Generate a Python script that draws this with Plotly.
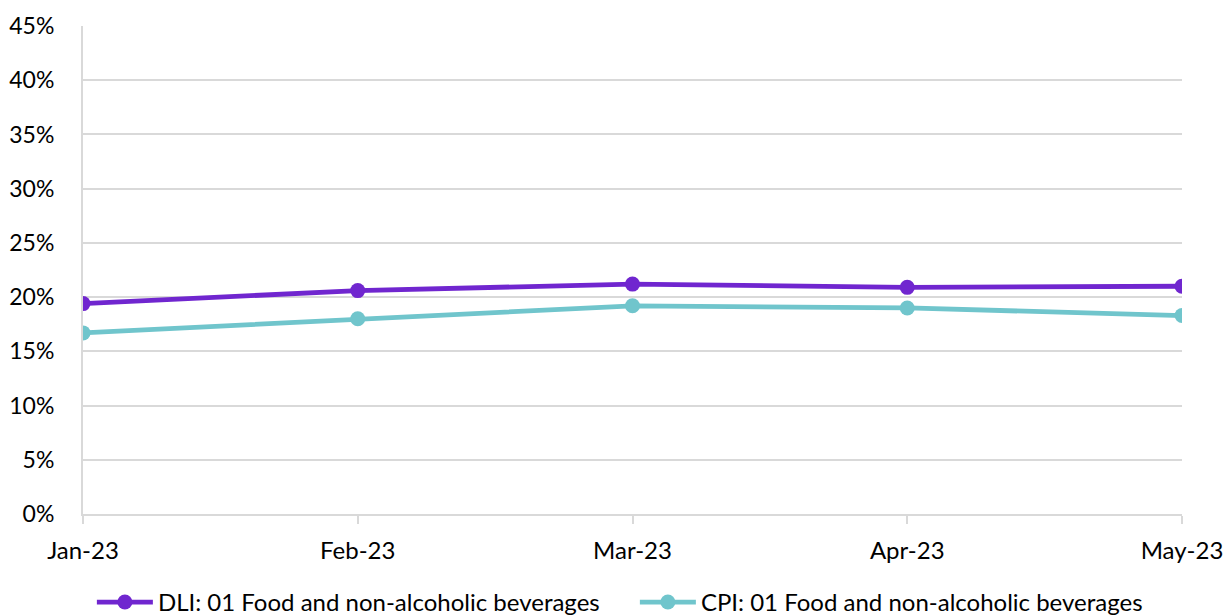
import plotly.graph_objects as go

months = ["Jan-23", "Feb-23", "Mar-23", "Apr-23", "May-23"]
dli_values = [19.4, 20.6, 21.2, 20.9, 21.0]
cpi_values = [16.7, 18.0, 19.2, 19.0, 18.3]
y_ticks = [0, 5, 10, 15, 20, 25, 30, 35, 40, 45]
y_tick_labels = [f"{v}%" for v in y_ticks]

DLI_COLOR = "#7026CF"
CPI_COLOR = "#70C5CC"
FONT = "Lato, 'Open Sans', sans-serif"
FONT_SIZE = 23

fig = go.Figure()
fig.add_trace(go.Scatter(
    x=months, y=dli_values, mode="lines+markers",
    name="DLI: 01 Food and non-alcoholic beverages",
    line=dict(color=DLI_COLOR, width=4.8),
    marker=dict(color=DLI_COLOR, size=15),
))
fig.add_trace(go.Scatter(
    x=months, y=cpi_values, mode="lines+markers",
    name="CPI: 01 Food and non-alcoholic beverages",
    line=dict(color=CPI_COLOR, width=4.8),
    marker=dict(color=CPI_COLOR, size=15),
))

fig.update_layout(
    width=1225, height=616,
    margin=dict(l=83, r=43, t=26, b=102, autoexpand=False),
    paper_bgcolor="white", plot_bgcolor="white",
    font=dict(family=FONT, size=FONT_SIZE, color="#000000"),
    showlegend=True,
    legend=dict(
        orientation="h", xref="container", x=0.075, xanchor="left",
        yref="container", y=0.022, yanchor="middle",
        font=dict(family=FONT, size=24, color="#000000"),
        itemwidth=56, entrywidth=472, entrywidthmode="pixels",
        tracegroupgap=0,
    ),
    xaxis=dict(
        type="category", range=[0, 4], automargin=False,
        showgrid=False, showline=True, linecolor="#D9D9D9", linewidth=2,
        ticks="outside", ticklen=8, tickcolor="#D9D9D9", tickwidth=2,
        ticklabelstandoff=6,
        tickfont=dict(family=FONT, size=24, color="#000000"),
        zeroline=False,
    ),
    yaxis=dict(
        range=[0, 45], tickvals=y_ticks, ticktext=y_tick_labels, automargin=False,
        showgrid=True, gridcolor="#D9D9D9", gridwidth=2,
        showline=True, linecolor="#D9D9D9", linewidth=2,
        ticks="", ticklabelstandoff=22,
        tickfont=dict(family=FONT, size=FONT_SIZE, color="#000000"),
        zeroline=False,
    ),
)

fig.write_html("out.html")
